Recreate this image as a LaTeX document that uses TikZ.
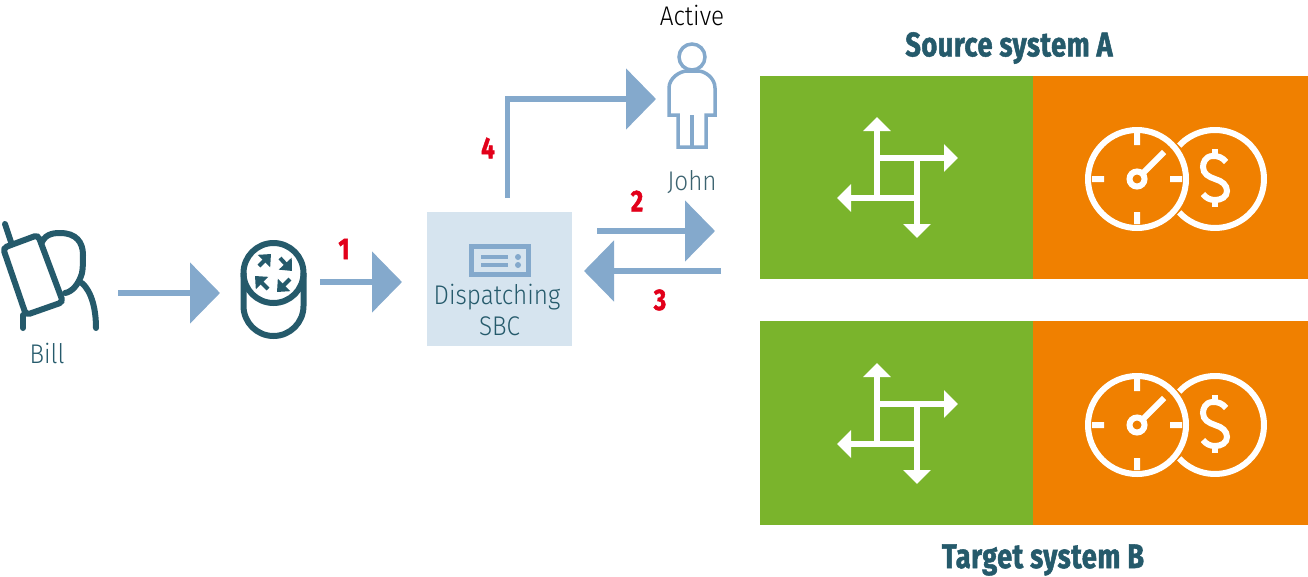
\documentclass[tikz,border=0pt]{standalone}
\usepackage{fontspec}
\setmainfont{Fira Sans}
\newfontfamily\labelfont[FakeStretch=0.9]{Fira Sans Light}
\newfontfamily\titlefont[FakeStretch=0.8,FakeBold=1.5,LetterSpace=1.5]{Fira Sans Bold}
\usetikzlibrary{arrows.meta,positioning}

\definecolor{teal}{HTML}{255A6B}
\definecolor{flowblue}{HTML}{84A9CC}
\definecolor{boxblue}{HTML}{D6E4EF}
\definecolor{srcgreen}{HTML}{7AB42C}
\definecolor{srcorange}{HTML}{F08000}
\definecolor{stepred}{HTML}{E2001A}

\tikzset{
    flow/.style={draw=flowblue,line width=5.5,-{Triangle[length=30,width=60]}},
    ghost/.style={inner sep=0,outer sep=0},
    panel/.style={ghost,minimum width=273,minimum height=203},
    caption/.style={text=teal,font=\labelfont\fontsize{27}{31}\selectfont,align=center},
    steplabel/.style={text=stepred,font=\titlefont\fontsize{30}{30}\selectfont},
    systitle/.style={text=teal,font=\titlefont\fontsize{34}{34}\selectfont},
    pics/routes/.style={code={
        \draw[white,line width=6,-{Triangle[length=14,width=27]}] (117,122) -- (117,41);
        \draw[white,line width=6,-{Triangle[length=14,width=27]}] (114,82) -- (198,82);
        \draw[white,line width=6,-{Triangle[length=14,width=27]}] (157,79) -- (157,162);
        \draw[white,line width=6,-{Triangle[length=14,width=27]}] (160,122) -- (77,122);
    }},
    pics/meter/.style={code={
        \draw[white,line width=6] (377,103) circle (49);
        \draw[white,line width=6] (377,103) circle (7.5);
        \draw[white,line width=6] (377,57) -- (377,69) (332,103) -- (344,103)
            (410,103) -- (422,103) (377,136) -- (377,148) (382,98) -- (404,76);
        \draw[white,line width=6] (455,103) ++(137:49) arc (137:-137:49);
        \draw[white,line width=6] (466,86) .. controls (462,81) and (458,80) .. (453,80)
            .. controls (445,80) and (443,87) .. (443,91)
            .. controls (443,98) and (449,101) .. (455,103)
            .. controls (462,105) and (467,109) .. (467,115)
            .. controls (467,121) and (461,124) .. (455,124)
            .. controls (450,124) and (446,122) .. (443,118);
        \draw[white,line width=6] (455,73) -- (455,81) (455,123) -- (455,131);
    }},
}

\begin{document}
\begin{tikzpicture}[x=1pt,y=-1pt]
    \useasboundingbox (0,0) rectangle (1308,576);

    \node[panel,fill=srcgreen,anchor=north west] (srcA) at (760,76) {};
    \node[panel,fill=srcorange,minimum width=275] (srcB) [right=0pt of srcA] {};
    \node[panel,fill=srcgreen,minimum height=204,anchor=north west] (tgtA) at (760,321) {};
    \node[panel,fill=srcorange,minimum width=275,minimum height=204] (tgtB) [right=0pt of tgtA] {};
    \pic at (760,76) {routes};
    \pic at (760,76) {meter};
    \pic at (760,322) {routes};
    \pic at (760,322) {meter};
    \node[systitle] (srcTitle) at (1009,48) {Source system A};
    \node[systitle] (tgtTitle) at (1043,560) {Target system B};

    \node[ghost,fill=boxblue,minimum width=145,minimum height=134] (sbc) at (499.5,279) {};
    \node[caption] (sbcText) at (497,310) {Dispatching\\\hspace*{5pt}SBC};
    \draw[flowblue,line width=5] (471.5,246.5) rectangle (528.5,274.5);
    \draw[flowblue,line width=3.5] (481,257) -- (508,257) (481,265) -- (508,265);
    \fill[flowblue] (518,257) circle (3) (518,265) circle (3);

    % bill
    \node[ghost,minimum width=100,minimum height=120] (bill) at (50,293) {};
    \node[caption] (billText) at (47,353) {Bill};
    \draw[teal,line width=6,rounded corners=4,line cap=round]
        (3,248) -- (38,235) -- (63,302) -- (26,315) -- cycle;
    \draw[teal,line width=6,line cap=round] (5,224) -- (11,242);
    \draw[teal,line width=6,line cap=round] (42,242) .. controls (46,233) and (56,233) .. (60,233)
        .. controls (76,233) and (83,242) .. (83,255)
        .. controls (83,262) and (83,268) .. (82,273)
        .. controls (79,284) and (72,292) .. (65,293);
    \draw[teal,line width=6,line cap=round] (82,283) .. controls (92,292) and (96,310) .. (96,328);
    \draw[teal,line width=6,line cap=round] (23,315) -- (23,328);

    % router
    \node[ghost,minimum width=66,minimum height=100] (router) at (274,293) {};
    \draw[teal,line width=6] (273.5,273) circle (30);
    \draw[teal,line width=6] (243.5,273) -- (243.5,306) arc (180:0:30) -- (303.5,273);
    \foreach \a/\b/\c/\d in {259/266/271/254,280/258/292/271,290/279/277/292,268/289/255/276}
        \draw[teal,line width=4,-{Triangle[length=10,width=17]}] (\a,\b) -- (\c,\d);

    % john
    \node[ghost,minimum width=48,minimum height=96] (john) at (692,99) {};
    \node[font=\labelfont\fontsize{27}{31}\selectfont,text=black] (johnState) at (692,15) {Active};
    \node[caption,text=teal!75!gray] (johnText) at (692,182) {John};
    \draw[flowblue,line width=3.5] (692,57) circle (13);
    \draw[flowblue,line width=3.5] (678,115) -- (669,115) -- (669,88)
        .. controls (669,78) and (680,71) .. (687,71) -- (698,71)
        .. controls (705,71) and (715,78) .. (715,88) -- (715,115) -- (706,115)
        -- (706,147) -- (678,147) -- cycle;
    \draw[flowblue,line width=3.5] (692,115) -- (692,147);

    \draw[flow,shorten <=18,shorten >=21] (bill) -- (router);
    \draw[flow,shorten <=13,shorten >=25] ([yshift=11]router.east) -- ([yshift=-3]sbc.west);
    \draw[flow,shorten <=14,shorten >=12] ([xshift=8]sbc.north) |- (john.west);
    \draw[flow,shorten <=25,shorten >=45] ([yshift=48]sbc.east) -- ([yshift=-53.5]srcA.west);
    \draw[flow,shorten <=39,shorten >=12] ([yshift=-93.5]srcA.west) -- ([yshift=8]sbc.east);

    \node[steplabel] (n1) at (344,249) {1};
    \node[steplabel] (n2) at (637,201) {2};
    \node[steplabel] (n3) at (660,300) {3};
    \node[steplabel] (n4) at (488,148) {4};
\end{tikzpicture}
\end{document}
